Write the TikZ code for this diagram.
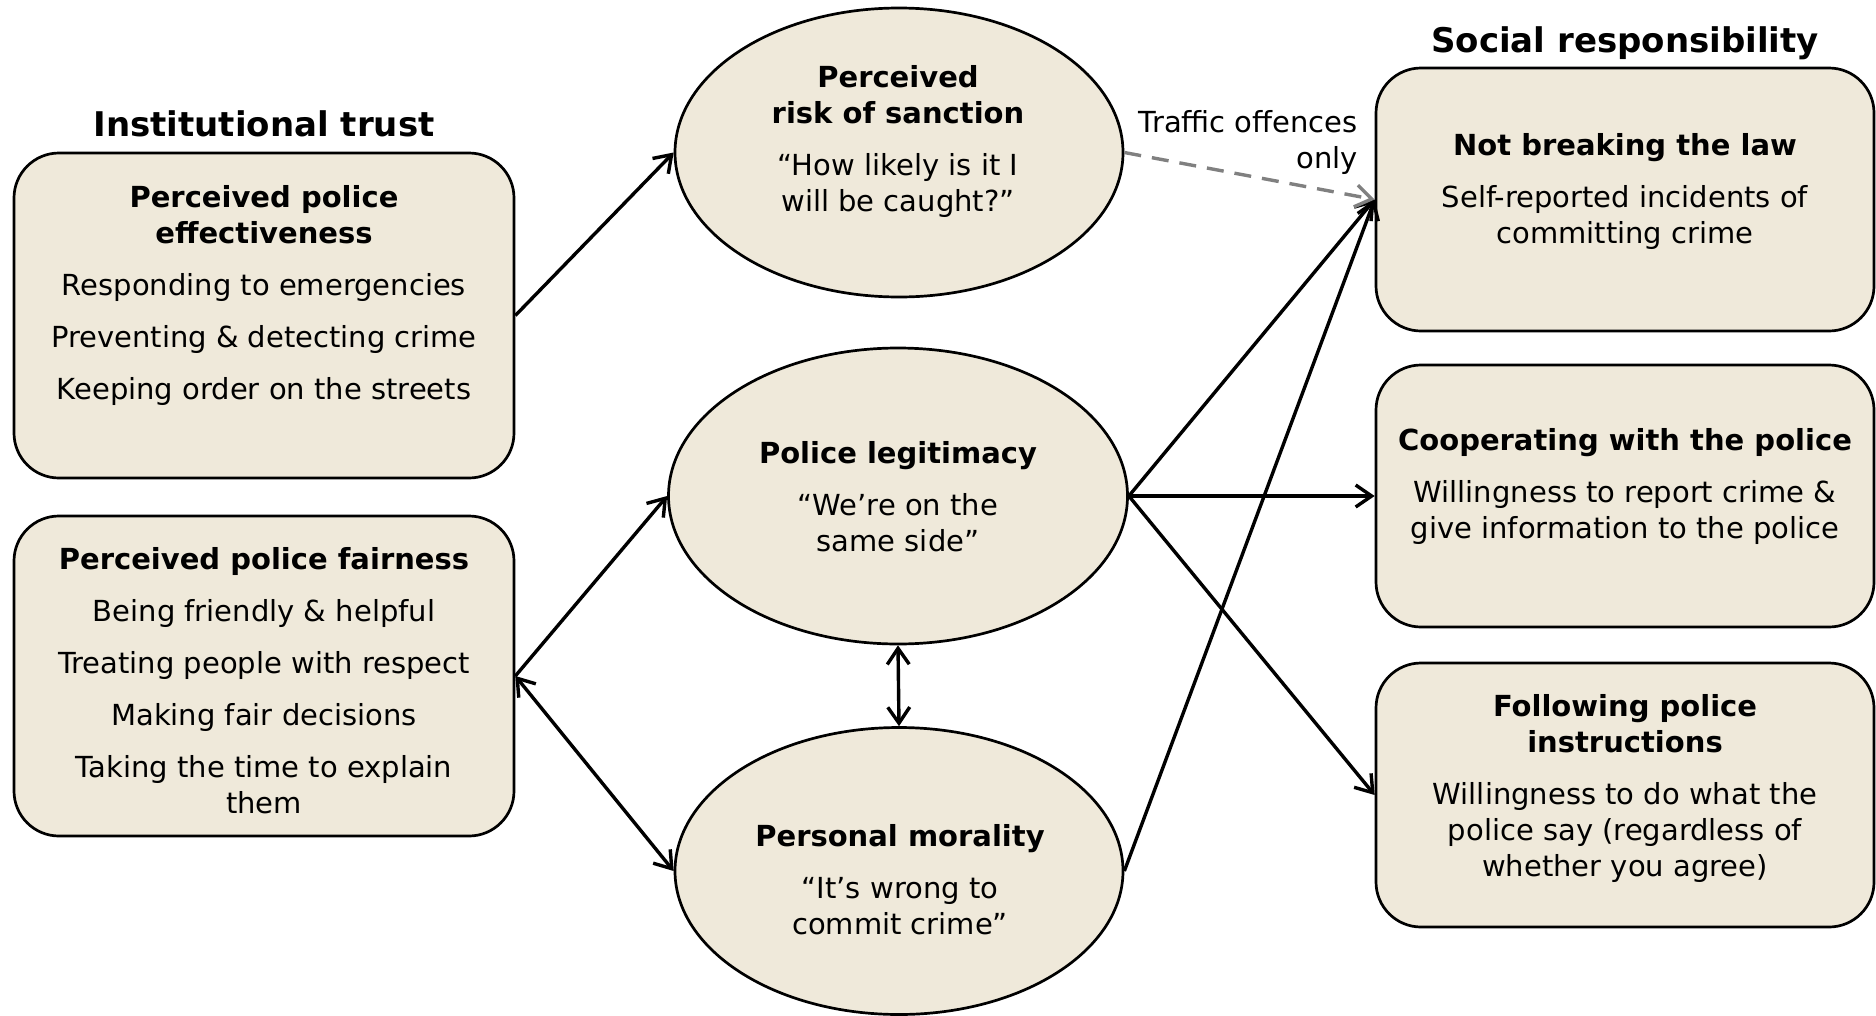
\documentclass[tikz,border=0pt]{standalone}
\usepackage{fontspec}
\setmainfont{DejaVu Sans}
\usetikzlibrary{arrows.meta,shapes.geometric}
\definecolor{boxfill}{RGB}{239,233,218}
\definecolor{dashgray}{RGB}{128,128,128}
\begin{document}
\begin{tikzpicture}[x=1pt,y=-1pt,
  box/.style={draw, line width=2.7pt, fill=boxfill, rounded corners=45pt, minimum width=500pt, inner sep=0pt},
  oval/.style={ellipse, draw, line width=2.7pt, fill=boxfill, inner sep=0pt},
  txt/.style={anchor=north, align=center, inner sep=0pt, font=\fontsize{29}{36}\selectfont, execute at begin node=\strut},
  ttl/.style={anchor=base, inner sep=0pt, font=\fontsize{34}{40}\selectfont\bfseries},
  arr/.style={line width=3.4pt, -{Straight Barb[length=16pt,width=22pt]}},
  darr/.style={line width=3.4pt, {Straight Barb[length=16pt,width=22pt]}-{Straight Barb[length=16pt,width=22pt]}},
]
\useasboundingbox (0,0) rectangle (1876,1015);

% titles
\node[ttl] (T1) at (264,136) {Institutional trust};
\node[ttl] (T2) at (1625,52) {Social responsibility};

% left boxes
\node[box, minimum height=325pt] (B1) at (264,315.5) {};
\node[box, minimum height=320pt] (B2) at (264,676) {};
% ellipses
\node[oval, minimum width=448pt, minimum height=289pt] (E1) at (899,152.5) {};
\node[oval, minimum width=459pt, minimum height=296pt] (E2) at (898,496) {};
\node[oval, minimum width=448pt, minimum height=287pt] (E3) at (899,871) {};
% right boxes
\node[box, minimum width=498pt, minimum height=263pt] (R1) at (1625,199.5) {};
\node[box, minimum width=498pt, minimum height=262pt] (R2) at (1625,496) {};
\node[box, minimum width=498pt, minimum height=264pt] (R3) at (1625,795) {};

% texts
\node[txt] (tB1) at (264,185) {\textbf{Perceived police}\\\textbf{effectiveness}\\[16pt]Responding to emergencies\\[16pt]Preventing \& detecting crime\\[16pt]Keeping order on the streets};
\node[txt] (tB2) at (264,547) {\textbf{Perceived police fairness}\\[16pt]Being friendly \& helpful\\[16pt]Treating people with respect\\[16pt]Making fair decisions\\[16pt]Taking the time to explain\\them};
\node[txt] (tE1) at (898,65) {\textbf{Perceived}\\\textbf{risk of sanction}\\[16pt]“How likely is it I\\will be caught?”};
\node[txt] (tE2) at (898,441) {\textbf{Police legitimacy}\\[16pt]“We’re on the\\same side”};
\node[txt] (tE3) at (900,824) {\textbf{Personal morality}\\[16pt]“It’s wrong to\\commit crime”};
\node[txt] (tR1) at (1625,133) {\textbf{Not breaking the law}\\[16pt]Self-reported incidents of\\committing crime};
\node[txt] (tR2) at (1625,428) {\textbf{Cooperating with the police}\\[16pt]Willingness to report crime \&\\give information to the police};
\node[txt] (tR3) at (1625,694) {\textbf{Following police}\\\textbf{instructions}\\[16pt]Willingness to do what the\\police say (regardless of\\whether you agree)};
\node[txt, anchor=north east, align=right] (lab) at (1358,110) {Traffic offences\\only};

% connectors
\draw[arr] (B1.east) -- (E1.west);
\draw[arr] (B2.east) -- (E2.west);
\draw[darr] (B2.east) -- (E3.west);
\draw[darr] (E2.south) -- (E3.north);
\draw[arr] (E2.east) -- (R1.west);
\draw[arr] (E2.east) -- (R2.west);
\draw[arr] (E2.east) -- (R3.west);
\draw[arr] (E3.east) -- (R1.west);
\draw[arr, dashgray, dash pattern=on 17pt off 11pt] (E1.east) -- (R1.west);
\end{tikzpicture}
\end{document}
